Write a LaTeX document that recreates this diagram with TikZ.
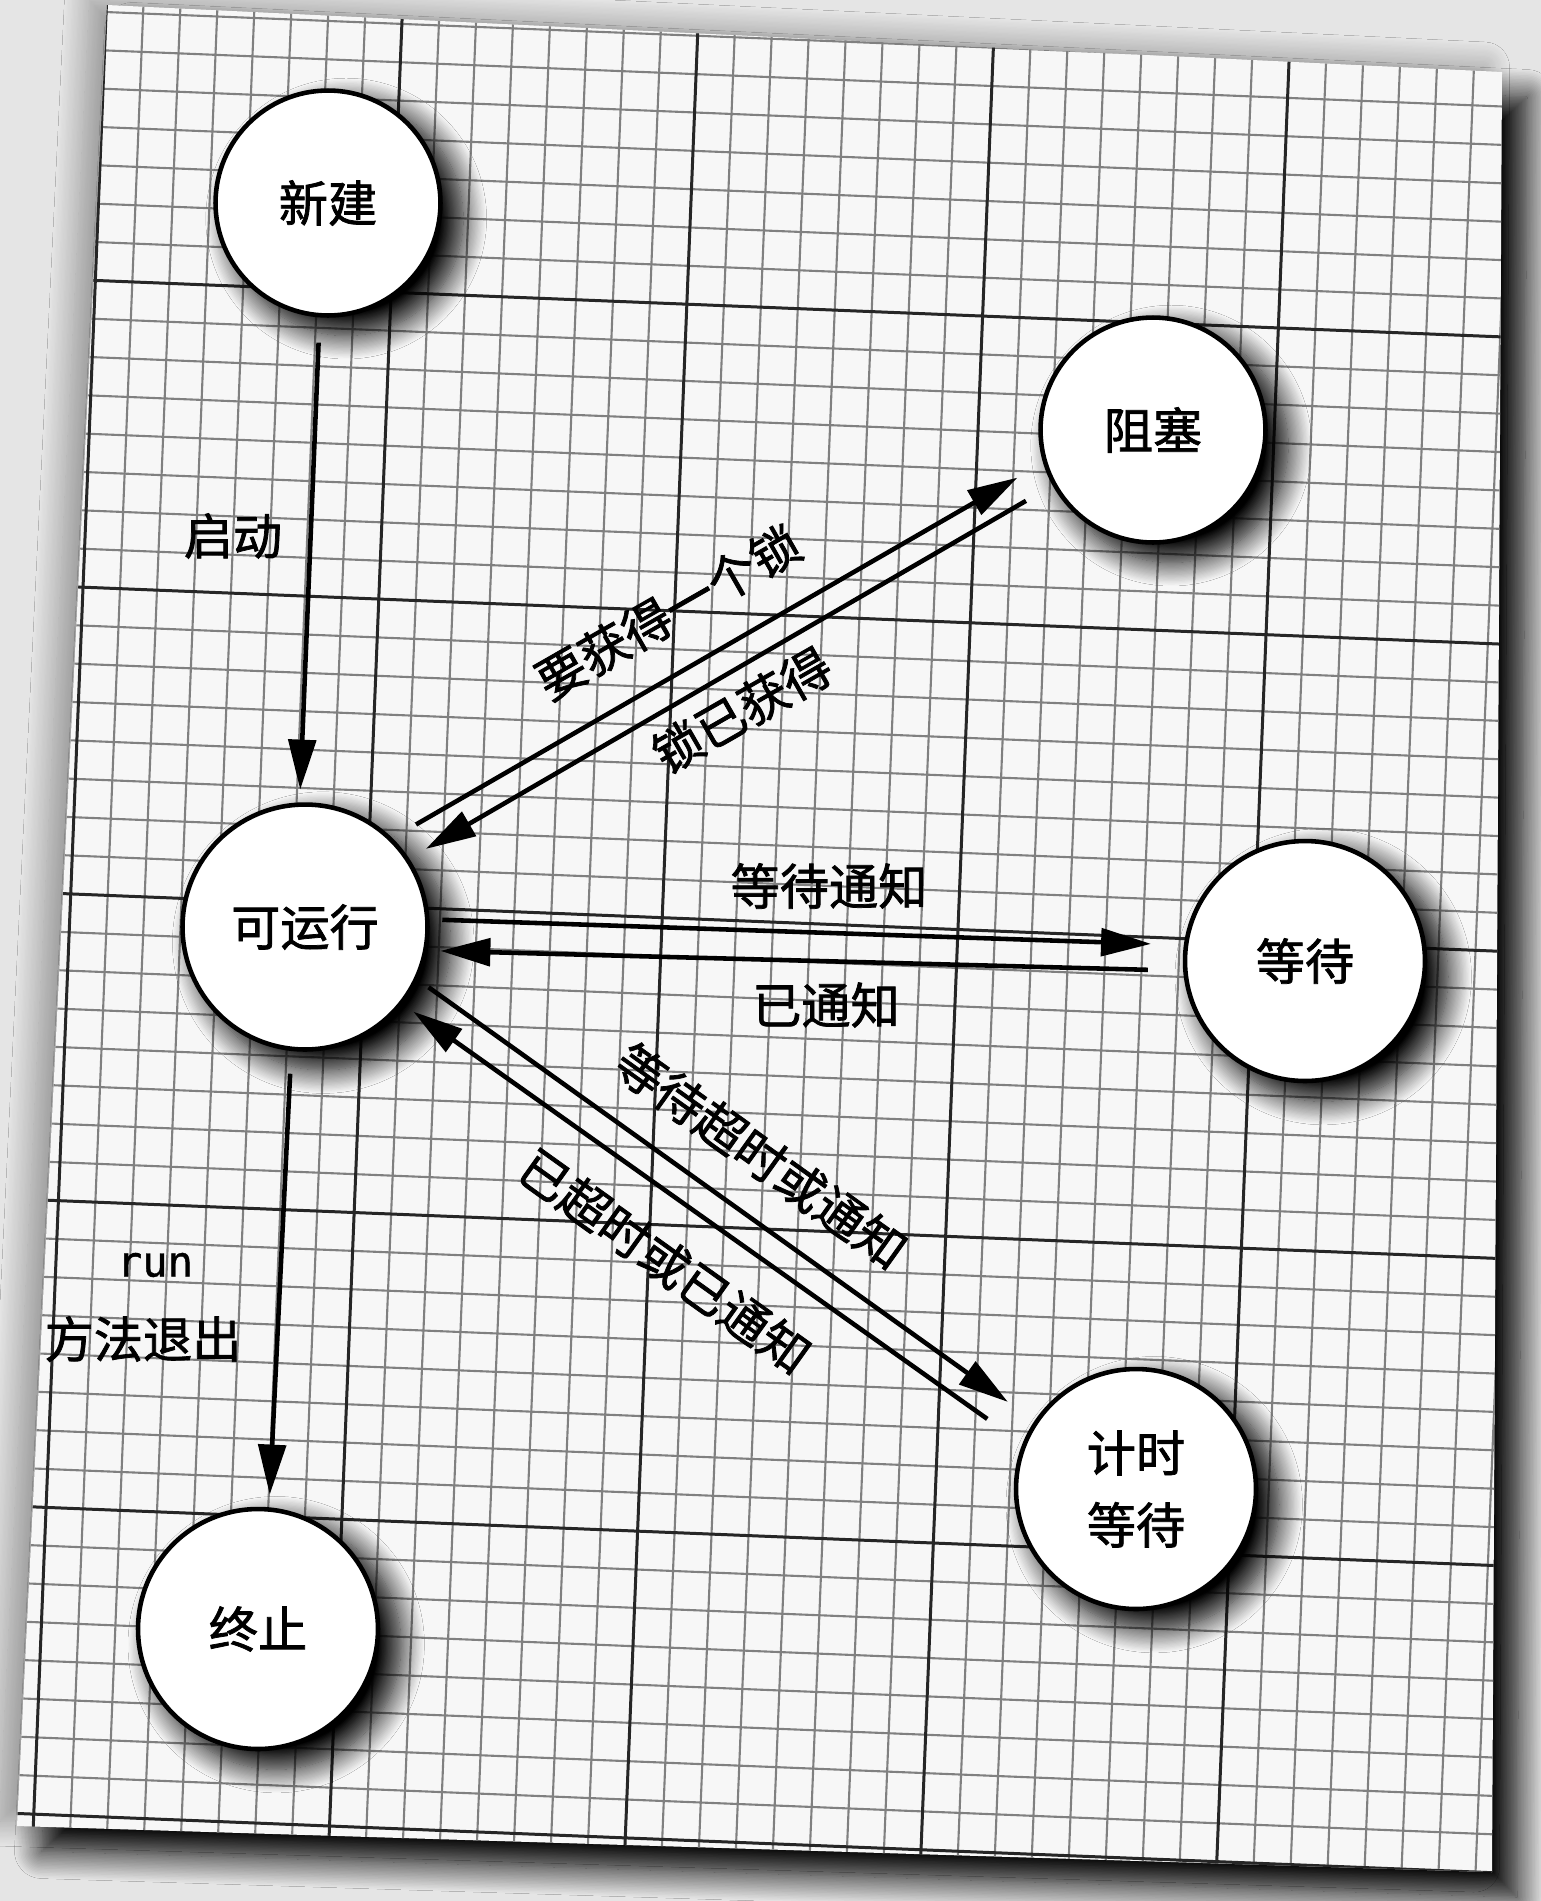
\documentclass[tikz,border=0pt]{standalone}
\usepackage{fontspec}
\setmainfont{Noto Sans CJK SC}[FakeBold=1.5]
\setmonofont{DejaVu Sans Mono}[FakeBold=1]
\usetikzlibrary{arrows.meta,shadows.blur}

\definecolor{paperc}{gray}{0.97}
\definecolor{deskc}{gray}{0.90}

\tikzset{
  state/.style={circle, draw=black, line width=2.6pt, fill=white, inner sep=0pt,
    outer sep=0.3cm, minimum size=4.8cm, align=center,
    font=\fontsize{28}{41}\selectfont,
    blur shadow={shadow xshift=0.35cm, shadow yshift=-0.3cm, shadow scale=1.04,
      shadow blur radius=0.45cm, shadow blur steps=20, shadow opacity=100}},
  link/.style={-{Triangle[length=1cm,width=0.55cm,fill=black]}, draw=black,
    line width=2.6pt, fill opacity=1, draw opacity=1},
  tag/.style={inner sep=0pt, font=\fontsize{28}{34}\selectfont},
  gridminor/.style={line width=1.2pt, black!50},
  gridmajor/.style={line width=1.7pt, black!85}
}

\begin{document}
\begin{tikzpicture}[x=0.02cm, y=-0.02cm]
\useasboundingbox (0,0) rectangle (1541,1901);
\fill[deskc] (0,0) rectangle (1541,1901);

% sheet of grid paper
\coordinate (tl) at (107,5);
\coordinate (tr) at (1502,72);
\coordinate (br) at (1492,1872);
\coordinate (bl) at (17,1826);
\path[blur shadow={shadow xshift=-0.35cm, shadow yshift=0.1cm,
    shadow blur radius=0.5cm, shadow blur steps=20, shadow opacity=35}] (tl)--(tr)--(br)--(bl)--cycle;
\fill[paperc, blur shadow={shadow xshift=0.5cm, shadow yshift=-0.5cm,
    shadow blur radius=0.55cm, shadow blur steps=20, shadow opacity=100}] (tl)--(tr)--(br)--(bl)--cycle;
\begin{scope}
\clip (tl)--(tr)--(br)--(bl)--cycle;
\begin{scope}[rotate around={-2.3:(770,950)}]
\foreach \i in {-10,...,50}
{
    \draw[gridminor](69+37*\i,-300)--(69+37*\i,2200);
}
\foreach \j in {-20,...,50}
{
    \draw[gridminor](-300,308+38.375*\j)--(1900,308+38.375*\j);
}
\foreach \i in {-1,...,6}
{
    \draw[gridmajor](69+296*\i,-300)--(69+296*\i,2200);
}
\foreach \j in {-2,...,6}
{
    \draw[gridmajor](-300,308+307*\j)--(1900,308+307*\j);
}
\end{scope}
\end{scope}

% states
\node[state, minimum size=4.5cm] (new) at (328,203) {新建};
\node[state, minimum size=4.5cm] (blocked) at (1153,430) {阻塞};
\node[state, minimum size=4.9cm] (run) at (305,927) {可运行};
\node[state] (wait) at (1305,961) {等待};
\node[state] (timed) at (1136,1489) {计时\\等待};
\node[state] (term) at (258,1629) {终止};

% transitions
\draw[link, shorten <=.25cm](new.-94)--(run.92);
\draw[link, shorten <=.2cm](run.-96)--(term.85);
\draw[link, shorten <=.28cm, shorten >=.33cm](run.44)--(blocked.198.6);
\draw[link, shorten <=.36cm, shorten >=.13cm](blocked.209.6)--(run.33.4);
\draw[link, shorten >=.4cm](run.3.7)--(wait.173.3);
\draw[link, shorten <=.45cm](wait.184.3)--(run.-10.6);
\draw[link, shorten >=.4cm](run.-26.7)--(timed.146.3);
\draw[link, shorten <=.6cm](timed.157.7)--(run.-38.9);

\node[tag] (lstart) at (233,536) {启动};
\node[tag, font=\ttfamily\fontsize{24}{28}\selectfont] (lrun) at (155,1265) {run};
\node[tag] (lexit) at (143,1339) {方法退出};
\node[tag, rotate=29.8] (lacq) at (668,612) {要获得一个锁};
\node[tag, rotate=29.8] (lgot) at (742,710) {锁已获得};
\node[tag] (lwait) at (829,886) {等待通知};
\node[tag] (lnote) at (826,1005) {已通知};
\node[tag, rotate=-35.6] (ltwait) at (761,1156) {等待超时或通知};
\node[tag, rotate=-35.6] (lpass) at (665,1261) {已超时或已通知};
\end{tikzpicture}
\end{document}
